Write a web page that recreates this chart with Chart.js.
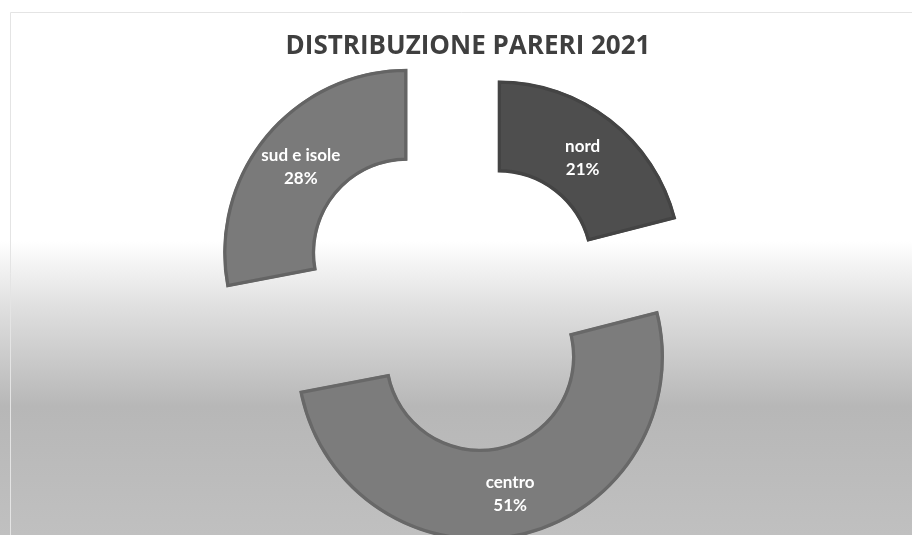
<!DOCTYPE html>
<html>
<head>
<meta charset="utf-8">
<script src="https://cdn.jsdelivr.net/npm/chart.js@4"></script>
<style>
  html, body { margin: 0; padding: 0; background: #fff; }
  #wrap { width: 912px; height: 535px; }
</style>
</head>
<body>
<div id="wrap"><canvas id="pareri"></canvas></div>
<script>
// data
var labels = ['nord', 'centro', 'sud e isole'];
var values = [21, 51, 28];
var colors = ['#4e4e4e', '#7c7c7c', '#7a7a7a'];
var borders = ['#444444', '#686868', '#646464'];
var explode = [49, 55, 79]; // px, per slice

/*-----exploded slices: move each arc by its full offset-----*/
var baseDraw = Chart.ArcElement.prototype.draw;
Chart.ArcElement.prototype.draw = function(ctx) {
	var i = this.$context ? this.$context.dataIndex : 0;
	var off = explode[i] || 0;
	var mid = (this.startAngle + this.endAngle) / 2;
	ctx.save();
	ctx.translate(Math.cos(mid) * off, Math.sin(mid) * off);
	baseDraw.call(this, ctx);
	ctx.restore();
};

var bgPlugin = {
	id: 'bg',
	beforeDraw: function(chart) {
		var c = chart.ctx, w = chart.width, h = chart.height;
		var g = c.createLinearGradient(0, 0, 0, h);
		g.addColorStop(0, '#ffffff');
		g.addColorStop(0.45, '#ffffff');
		g.addColorStop(0.58, '#dedede');
		g.addColorStop(0.76, '#b7b7b7');
		g.addColorStop(1, '#c0c0c0');
		c.save();
		c.fillStyle = g;
		c.fillRect(0, 0, w, h);
		c.strokeStyle = '#e4e4e4';
		c.lineWidth = 1;
		c.beginPath();
		c.moveTo(10.5, h);
		c.lineTo(10.5, 12.5);
		c.lineTo(w, 12.5);
		c.stroke();
		c.restore();
	}
};

var labelPlugin = {
	id: 'sliceLabels',
	afterDatasetsDraw: function(chart) {
		var c = chart.ctx;
		var meta = chart.getDatasetMeta(0);
		var total = values.reduce(function(a, b) { return a + b; }, 0);
		c.save();
		c.fillStyle = '#ffffff';
		c.font = 'bold 17px Lato';
		c.textAlign = 'center';
		c.textBaseline = 'middle';
		meta.data.forEach(function(arc, i) {
			var p = arc.getCenterPoint();
			var mid = (arc.startAngle + arc.endAngle) / 2;
			var x = p.x + Math.cos(mid) * explode[i];
			var y = p.y + Math.sin(mid) * explode[i];
			c.fillText(labels[i], x, y - 9);
			c.fillText(Math.round(values[i] / total * 100) + '%', x, y + 14);
		});
		c.restore();
	}
};

var ctx = document.getElementById('pareri').getContext('2d');
new Chart(ctx, {
	type: 'doughnut',
	data: {
		labels: labels,
		datasets: [{
			data: values,
			backgroundColor: colors,
			borderColor: borders,
			borderWidth: 3,
			borderAlign: 'inner',
			borderJoinStyle: 'miter',
			clip: false
		}]
	},
	options: {
		responsive: true,
		maintainAspectRatio: false,
		animation: false,
		radius: 184,
		cutout: '50%',
		layout: {
			padding: { left: 24, right: 0, top: 0, bottom: 1 }
		},
		plugins: {
			legend: { display: false },
			tooltip: { enabled: false },
			title: {
				display: true,
				text: 'DISTRIBUZIONE PARERI 2021',
				color: '#3f3f3f',
				font: { family: 'Open Sans', size: 26, weight: 'bold' },
				padding: { top: 31, bottom: 10 }
			}
		}
	},
	plugins: [bgPlugin, labelPlugin]
});
</script>
</body>
</html>
